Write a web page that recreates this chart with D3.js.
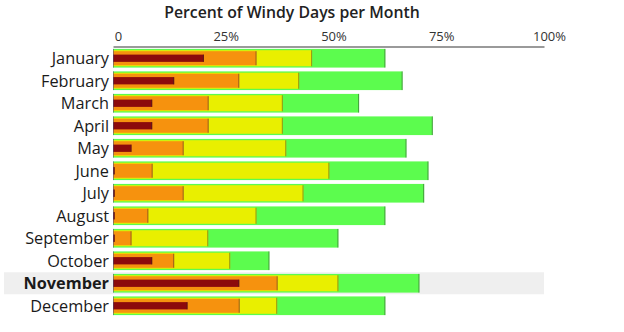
<!DOCTYPE html>
<html>
<head>
<meta charset="utf-8">
<script src="https://cdn.jsdelivr.net/npm/d3@7"></script>
<style>
  html, body { margin: 0; padding: 0; background: #fff; }
  svg { display: block; font-family: "Open Sans", "DejaVu Sans", sans-serif; }
</style>
</head>
<body>
<svg id="chart" width="624" height="332"></svg>
<script>
// Cumulative percent of days per month at each wind level
const months = ["January", "February", "March", "April", "May", "June",
                "July", "August", "September", "October", "November", "December"];
const windyAny    = [63.2, 67.2, 57.1, 74.2, 68.1, 73.2, 72.2, 63.2, 52.3, 36.3, 71.1, 63.2];
const windyMod    = [46.2, 43.2, 39.4, 39.4, 40.2, 50.2, 44.2, 33.3, 22.1, 27.2, 52.3, 38.1];
const windyStrong = [33.3, 29.3, 22.2, 22.2, 16.4,  9.2, 16.4,  8.2,  4.3, 14.2, 38.2, 29.4];
const windyGale   = [21.1, 14.2,  9.1,  9.1,  4.3,  0.4,  0.4,  0.4,  0.4,  9.1, 29.3, 17.3];
const tickValues  = [0, 25, 50, 75, 100];
const tickLabels  = ["0", "25%", "50%", "75%", "100%"];
const highlighted = "November";

const layers = [
  { values: windyAny,    color: "#5cfc4e", inset: 0 },
  { values: windyMod,    color: "#e9ef00", inset: 1.3 },
  { values: windyStrong, color: "#f6920e", inset: 2.3 },
  { values: windyGale,   color: "#8c0a0c", inset: 5.7 }
];

const svg = d3.select("#chart");
const x = d3.scaleLinear().domain([0, 100]).range([113, 544]);
const y = d3.scaleBand().domain(months).range([48, 316]).paddingInner(0.17).paddingOuter(0.04);

// Highlighted row background
svg.append("rect")
  .attr("x", 4)
  .attr("y", y(highlighted) + y.bandwidth() / 2 - 11)
  .attr("width", x(100) - 4)
  .attr("height", 22)
  .attr("fill", "#efefef");

// Title
svg.append("text")
  .attr("x", 292)
  .attr("y", 18)
  .attr("text-anchor", "middle")
  .attr("font-size", 15.8)
  .attr("font-weight", 600)
  .attr("fill", "#222")
  .text("Percent of Windy Days per Month");

// Top axis
const axis = d3.axisTop(x)
  .tickValues(tickValues)
  .tickFormat((d, i) => tickLabels[i])
  .tickSize(0)
  .tickPadding(0);
const gAxis = svg.append("g").attr("transform", "translate(0,46.5)").call(axis);
gAxis.select(".domain").attr("stroke", "#9a9a9a").attr("stroke-width", 2);
gAxis.selectAll(".tick text")
  .attr("dx", 5)
  .attr("dy", -6)
  .attr("font-size", 13)
  .attr("font-family", "'Open Sans', sans-serif")
  .attr("fill", "#333");

// Month labels
svg.append("g").selectAll("text")
  .data(months)
  .join("text")
  .attr("x", 109)
  .attr("y", d => y(d) + y.bandwidth() / 2)
  .attr("dy", "0.36em")
  .attr("text-anchor", "end")
  .attr("font-size", 16.3)
  .attr("font-weight", d => d === highlighted ? 700 : 400)
  .attr("fill", "#1a1a1a")
  .text(d => d);

// Layered bars, widest first
layers.forEach(layer => {
  const g = svg.append("g");
  const rows = months.map((m, i) => ({ month: m, value: layer.values[i] }));
  g.selectAll("rect")
    .data(rows)
    .join("rect")
    .attr("x", x(0))
    .attr("y", d => y(d.month) + layer.inset)
    .attr("width", d => x(d.value) - x(0))
    .attr("height", y.bandwidth() - 2 * layer.inset)
    .attr("fill", layer.color);
  // darker edge at the end of each bar
  g.selectAll("line")
    .data(rows)
    .join("line")
    .attr("x1", d => x(d.value) - 0.5)
    .attr("x2", d => x(d.value) - 0.5)
    .attr("y1", d => y(d.month) + layer.inset)
    .attr("y2", d => y(d.month) + y.bandwidth() - layer.inset)
    .attr("stroke", "rgba(40,40,40,0.45)")
    .attr("stroke-width", 1);
});

// Baseline edge on each bar
svg.append("g").selectAll("line")
  .data(months)
  .join("line")
  .attr("x1", x(0) + 0.5)
  .attr("x2", x(0) + 0.5)
  .attr("y1", d => y(d))
  .attr("y2", d => y(d) + y.bandwidth())
  .attr("stroke", "rgba(70,80,120,0.55)")
  .attr("stroke-width", 1);
</script>
</body>
</html>
